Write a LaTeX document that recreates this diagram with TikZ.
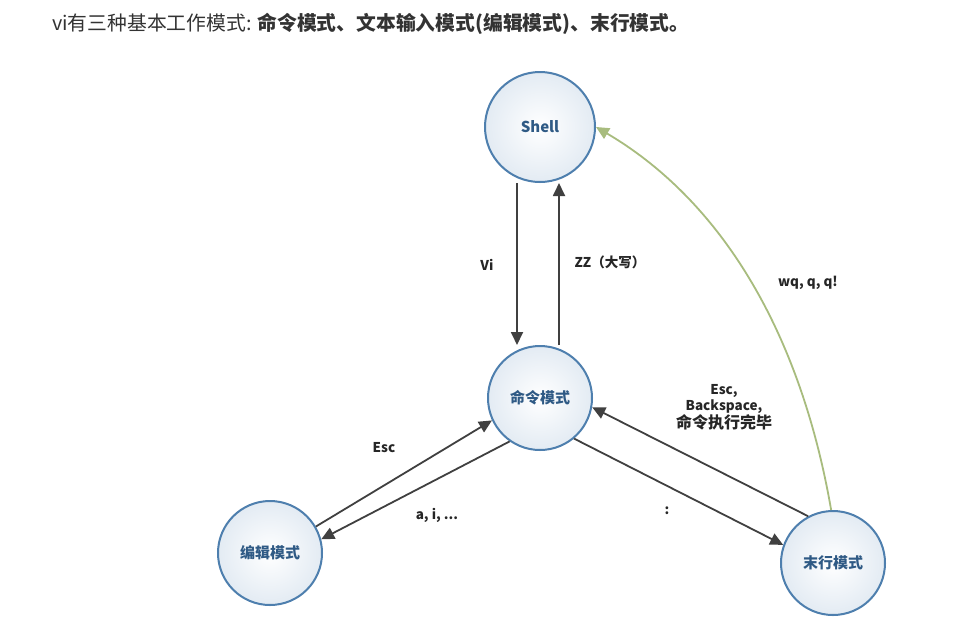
\documentclass[tikz,border=0pt]{standalone}
\usepackage{fontspec}
\setmainfont{Liberation Sans}
\newfontfamily\cjk{Noto Sans CJK SC}
\usetikzlibrary{arrows.meta}
\definecolor{ring}{HTML}{4E7FAE}
\definecolor{txt}{HTML}{2F5A85}
\definecolor{grn}{HTML}{A8BC7E}
\definecolor{fillb}{HTML}{E3EBF3}
\tikzset{
 st/.style={circle,draw=ring,line width=2pt,minimum size=104pt,inner color=white,outer color=fillb,font=\cjk\bfseries\fontsize{15}{17}\selectfont,text=txt},
 ar/.style={draw=black!75,line width=1.8pt,-{Triangle[length=13pt,width=12pt]}},
 lb/.style={font=\cjk\bfseries\fontsize{13.5}{16}\selectfont,text=black!85,align=center}
}
\begin{document}
\begin{tikzpicture}[x=1pt,y=-1pt]
\useasboundingbox[fill=white] (0,0) rectangle (977,633);
\node[anchor=west,font=\cjk\fontsize{19.8}{22}\selectfont,text=black!80,inner sep=0pt] (t) at (52,24) {vi有三种基本工作模式: \textbf{命令模式、文本输入模式(编辑模式)、末行模式。}};
\node[st,minimum size=110pt] (sh) at (540,127) {Shell};
\node[st] (cm) at (540,398) {命令模式};
\node[st] (ed) at (270,553) {编辑模式};
\node[st] (ln) at (833,563) {末行模式};
\draw[ar] ([xshift=-23pt]sh.south) -- ([xshift=-23pt]sh.south |- cm.north);
\draw[ar] ([xshift=19pt]cm.north) -- ([xshift=19pt]cm.north |- sh.south);
\draw[ar] (ed.30) -- (cm.205);
\draw[ar] (cm.235) -- (ed.15);
\draw[ar] (cm.310) -- (ln.160);
\draw[ar] (ln.118) -- (cm.-10);
\draw[draw=grn,line width=1.8pt,-{Triangle[length=13pt,width=12pt]}] (ln.92) .. controls (800,330) and (720,200) .. (sh.east);
\node[lb] (l1) at (487,265) {Vi};
\node[lb] (l2) at (610,262) {ZZ（大写）};
\node[lb] (l3) at (808,283) {wq, q, q!};
\node[lb] (l4) at (384,448) {Esc};
\node[lb] (l5) at (437,515) {a, i, ...};
\node[lb] (l6) at (667,511) {:};
\node[lb] (l7) at (724,407) {Esc,\\Backspace,\\{\fontsize{16}{18}\selectfont 命令执行完毕}};
\end{tikzpicture}
\end{document}
